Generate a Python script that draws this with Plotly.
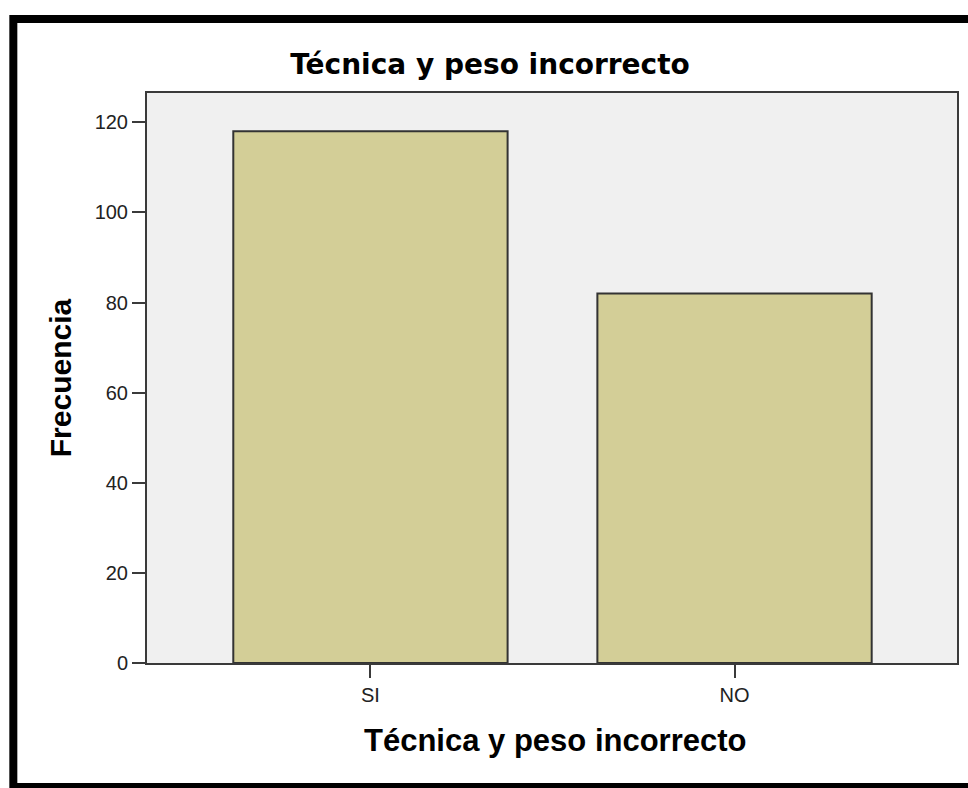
import plotly.graph_objects as go

# ---- data ----
categories = ["SI", "NO"]
frequencies = [118, 82]
y_tick_values = [0, 20, 40, 60, 80, 100, 120]
chart_title = "Técnica y peso incorrecto"
x_title = "Técnica y peso incorrecto"
y_title = "Frecuencia"

# ---- layout geometry (pixels) ----
W, H = 968, 788
PL, PR, PT, PB = 147, 959, 93, 663  # plot area edges


def px_x(px):
    return (px - PL) / (PR - PL)


def px_y(py):
    return (PB - py) / (PB - PT)


fig = go.Figure()
fig.add_trace(go.Bar(
    x=categories,
    y=frequencies,
    width=0.7534,
    marker=dict(color="#D3CE97", line=dict(color="#333333", width=2)),
    hoverinfo="x+y",
))

axis_font = dict(family="Liberation Sans, Arial, sans-serif", size=20, color="#222222")

fig.update_layout(
    width=W, height=H,
    margin=dict(l=PL, r=W - PR, t=PT, b=H - PB, pad=0),
    paper_bgcolor="white",
    plot_bgcolor="#F0F0F0",
    showlegend=False,
    title=dict(
        text=chart_title,
        font=dict(family="DejaVu Sans, sans-serif", size=28, color="#000000", weight="bold"),
        xref="container", x=490 / W, xanchor="center",
        yref="container", y=1 - 64 / H, yanchor="middle",
    ),
    xaxis=dict(
        type="category",
        range=[-0.6137, 1.611],
        showgrid=False, zeroline=False,
        showline=True, linecolor="#3a3a3a", linewidth=2, mirror=True,
        ticks="outside", ticklen=13, tickwidth=2, tickcolor="#3a3a3a",
        tickfont=axis_font,
    ),
    yaxis=dict(
        range=[0, 126.5],
        tickvals=y_tick_values,
        showgrid=False, zeroline=False,
        showline=True, linecolor="#3a3a3a", linewidth=2, mirror=True,
        ticks="outside", ticklen=13, tickwidth=2, tickcolor="#3a3a3a",
        tickfont=axis_font,
    ),
    annotations=[
        dict(text=x_title, xref="paper", yref="paper",
             x=px_x(556), y=px_y(740), xanchor="center", yanchor="middle",
             showarrow=False,
             font=dict(family="Liberation Sans, Arial, sans-serif", size=31, color="#000000", weight="bold")),
        dict(text=y_title, xref="paper", yref="paper",
             x=px_x(60), y=px_y(378), xanchor="center", yanchor="middle",
             textangle=-90, showarrow=False,
             font=dict(family="Liberation Sans, Arial, sans-serif", size=30, color="#000000", weight="bold")),
    ],
    shapes=[
        dict(type="rect", xref="paper", yref="paper",
             x0=px_x(13), x1=px_x(990), y0=px_y(787), y1=px_y(19),
             line=dict(color="#000000", width=8), fillcolor="rgba(0,0,0,0)",
             layer="above"),
    ],
)

fig.write_html(
    "out.html",
    config={"displayModeBar": False},
    post_script="document.body.style.margin='0';document.body.style.overflow='hidden';",
)
